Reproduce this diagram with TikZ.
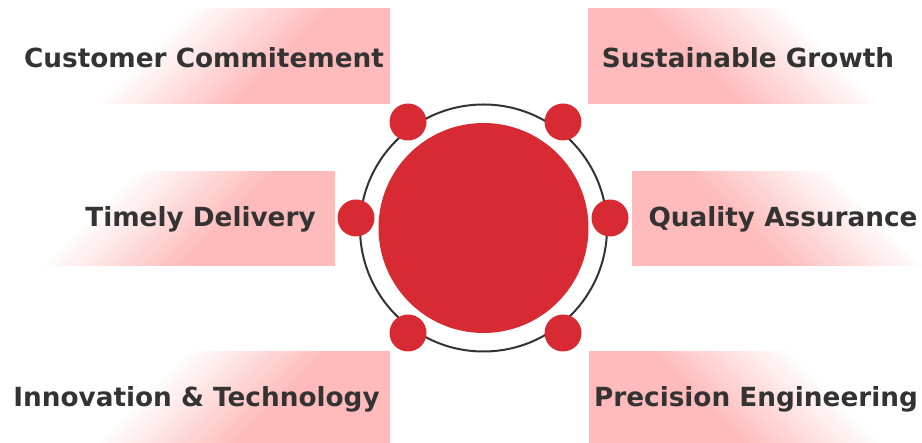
\documentclass[tikz,border=0pt]{standalone}
\usepackage{fontspec}
\setmainfont{DejaVu Sans}
\usepackage{xcolor}
\definecolor{boxpink}{RGB}{255,187,187}
\definecolor{hubred}{RGB}{215,42,50}
\definecolor{ringgray}{RGB}{51,51,51}
\definecolor{txtgray}{RGB}{51,51,51}
\newcommand\fadebox[6]{%
  \begin{scope}
    \clip (#1,#2) rectangle (#3,#4);
    \begin{scope}[rotate=#5]
      \foreach \k in {0,...,24}{%
        \pgfmathsetmacro\pc{\k*4}
        \fill[boxpink!\pc!white] (#6+\k*4,-1500) rectangle (#6+\k*4+4.6,1500);
      }
      \fill[boxpink] (#6+100,-1500) rectangle (#6+2000,1500);
    \end{scope}
  \end{scope}}

\begin{document}
\begin{tikzpicture}[x=1pt,y=-1pt,
    dot/.style={circle,fill=hubred,inner sep=0pt,minimum size=37pt},
    lbl/.style={anchor=base,inner sep=0pt,text=txtgray,font=\fontsize{26.3}{30}\selectfont\bfseries}]
    \useasboundingbox (0,0) rectangle (922,443);
    \fadebox{0}{9}{390}{104}{-45}{139.3}
    \fadebox{0}{172}{335}{266}{-45}{214.9}
    \fadebox{0}{352}{390}{443}{-45}{379}
    \fadebox{588}{9}{922}{104}{-135}{-552.2}
    \fadebox{632}{172}{922}{266}{-135}{-468.8}
    \fadebox{589}{352}{922}{443}{-135}{-313.2}
    \node[circle,draw=ringgray,line width=2pt,inner sep=0pt,minimum size=247pt] (ring) at (483.5,228) {};
    \node[circle,fill=hubred,inner sep=0pt,minimum size=210pt] (hub) at (483.5,228) {};
    \node[dot] (d_1) at (408,122) {};
    \node[dot] (d_2) at (563,122) {};
    \node[dot] (d_3) at (356,218) {};
    \node[dot] (d_4) at (610,218) {};
    \node[dot] (d_5) at (408,333) {};
    \node[dot] (d_6) at (563,333) {};
    \node[lbl] (l_1) at (204,68) {Customer Commitement};
    \node[lbl] (l_2) at (200.5,227) {Timely Delivery};
    \node[lbl] (l_3) at (196.5,407) {Innovation \& Technology};
    \node[lbl] (l_4) at (748,68) {Sustainable Growth};
    \node[lbl] (l_5) at (783,227) {Quality Assurance};
    \node[lbl] (l_6) at (756,407) {Precision Engineering};
\end{tikzpicture}
\end{document}
